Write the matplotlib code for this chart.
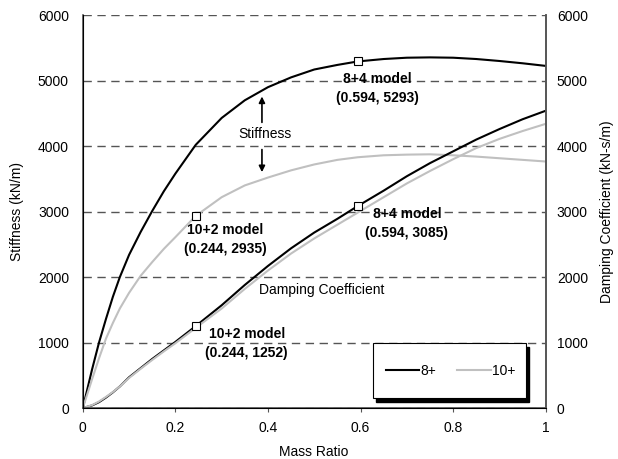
import matplotlib
matplotlib.use("Agg")
import matplotlib.pyplot as plt
from matplotlib.patches import Rectangle
from matplotlib.ticker import FormatStrFormatter

plt.rcParams['font.family'] = ['Liberation Sans', 'DejaVu Sans']
plt.rcParams['font.size'] = 10

# mass ratio samples
mass = [0, 0.02, 0.035, 0.05, 0.065, 0.08, 0.1, 0.125, 0.15, 0.175, 0.2, 0.244,
        0.3, 0.35, 0.4, 0.45, 0.5, 0.55, 0.594, 0.65, 0.7, 0.75, 0.8, 0.85,
        0.9, 0.95, 1.0]

stiff_8 = [0, 590, 1000, 1360, 1700, 2000, 2340, 2690, 3010, 3310, 3580, 4020,
           4430, 4700, 4900, 5050, 5170, 5240, 5293, 5330, 5350, 5355, 5350, 5330,
           5300, 5265, 5225]
stiff_10 = [0, 440, 760, 1060, 1300, 1520, 1760, 2020, 2230, 2430, 2610, 2935,
            3220, 3400, 3520, 3630, 3720, 3790, 3830, 3860, 3870, 3875, 3860, 3840,
            3815, 3790, 3765]
damp_8 = [0, 40, 90, 160, 240, 330, 470, 610, 750, 880, 1010, 1252,
          1570, 1880, 2170, 2440, 2680, 2890, 3085, 3320, 3540, 3740, 3920, 4100,
          4260, 4410, 4540]
damp_10 = [0, 45, 100, 170, 245, 330, 460, 600, 735, 865, 990, 1225,
           1520, 1820, 2100, 2360, 2590, 2800, 2985, 3220, 3430, 3620, 3800, 3970,
           4110, 4230, 4340]

# highlighted points: (x, y, title, label x, label y)
points = [(0.594, 5293, "8+4 model", 0.637, 4875),
          (0.244, 2935, "10+2 model", 0.307, 2572),
          (0.594, 3085, "8+4 model", 0.70, 2817),
          (0.244, 1252, "10+2 model", 0.354, 985)]

light = '#c0c0c0'

fig = plt.figure(figsize=(6.18, 4.59), dpi=100)
ax = fig.add_axes([0.134, 0.111, 0.749, 0.856])

l8, = ax.plot(mass, stiff_8, color='black', lw=1.5, label='8+')
l10, = ax.plot(mass, stiff_10, color=light, lw=1.5, label='10+')
ax.plot(mass, damp_8, color='black', lw=1.5)
ax.plot(mass, damp_10, color=light, lw=1.5)

for px, py, title, tx, ty in points:
    ax.plot(px, py, marker='s', ms=6, mfc='white', mec='black', mew=0.8)
    ax.text(tx, ty, "%s\n(%.3f, %d)" % (title, px, py), ha='center', va='center',
            fontweight='bold', linespacing=1.45)

ax.text(0.393, 4180, "Stiffness", ha='center', va='center')
ax.annotate("", xy=(0.387, 4800), xytext=(0.387, 4320),
            arrowprops=dict(arrowstyle='-|>', color='black', lw=1.2, mutation_scale=9))
ax.annotate("", xy=(0.387, 3560), xytext=(0.387, 3990),
            arrowprops=dict(arrowstyle='-|>', color='black', lw=1.2, mutation_scale=9))
ax.text(0.517, 1800, "Damping Coefficient", ha='center', va='center')

ax.set_xlim(0, 1)
ax.set_ylim(0, 6000)
ax.set_yticks(range(0, 7000, 1000))
ax.set_xticks([0, 0.2, 0.4, 0.6, 0.8, 1.0])
ax.xaxis.set_major_formatter(FormatStrFormatter('%g'))
ax.grid(axis='y', color='#555555', ls=(0, (6, 4)), lw=1)
ax.set_axisbelow(True)
ax.tick_params(axis='x', direction='out', length=3, color='#555555', pad=6)
ax.tick_params(axis='y', length=0, pad=10)
ax.spines['top'].set_visible(False)
for s in ['left', 'right', 'bottom']:
    ax.spines[s].set_color('#555555')
    ax.spines[s].set_linewidth(1.2)
ax.set_xlabel("Mass Ratio")
ax.set_ylabel("Stiffness (kN/m)")
ax.xaxis.set_label_coords(0.498, -0.093)
ax.yaxis.set_label_coords(-0.127, 0.5)

ax2 = ax.twinx()
ax2.set_ylim(0, 6000)
ax2.set_yticks(range(0, 7000, 1000))
ax2.tick_params(axis='y', length=0, pad=8)
ax2.spines['top'].set_visible(False)
ax2.spines['right'].set_color('#555555')
ax2.spines['right'].set_linewidth(1.2)
ax2.set_ylabel("Damping Coefficient (kN-s/m)")
ax2.yaxis.set_label_coords(1.117, 0.5)

# legend box with a solid black shadow
bx, by, bw, bh = 0.626, 0.025, 0.331, 0.14
ax2.add_patch(Rectangle((bx + 0.007, by - 0.01), bw, bh, transform=ax2.transAxes,
                        facecolor='black', edgecolor='black', zorder=4))
ax2.add_patch(Rectangle((bx, by), bw, bh, transform=ax2.transAxes,
                        facecolor='white', edgecolor='black', lw=0.8, zorder=5))
leg = ax2.legend([l8, l10], ['8+', '10+'], loc='center',
                 bbox_to_anchor=(bx + bw / 2 + 0.003, by + bh / 2), ncol=2,
                 frameon=False, handlelength=2.4, handletextpad=0.1,
                 columnspacing=1.5)
leg.set_zorder(6)

fig.savefig("out.png", dpi=100)
